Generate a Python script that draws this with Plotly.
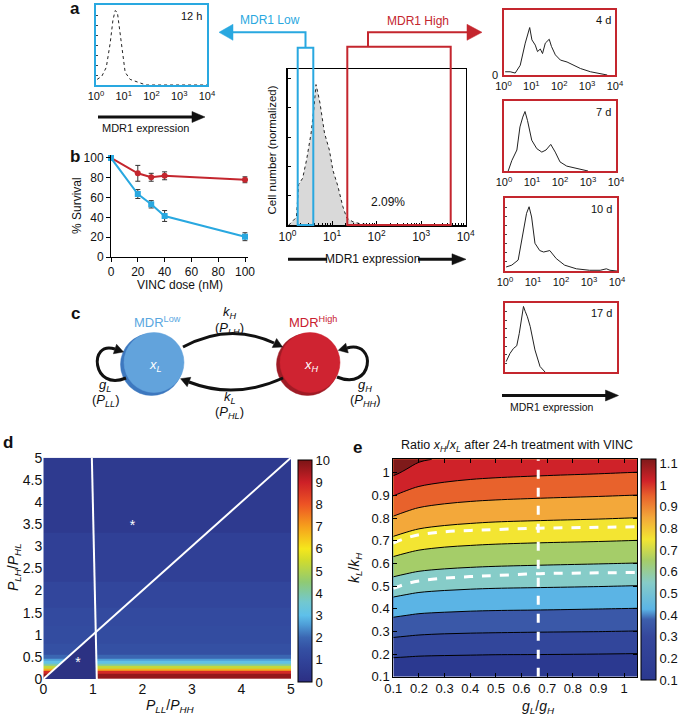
import numpy as np
import plotly.graph_objects as go

W, H = 685, 718
FONT = "Liberation Sans, Arial, Helvetica, sans-serif"
CYAN = "#29a8e0"
RED = "#c4262e"
INK = "#111111"

# ---------------- data ----------------
HIST_TICK_VALS = [1, 10, 100, 1000, 10000]
HIST_TICK_TEXT = ["10<sup>0</sup>", "10<sup>1</sup>", "10<sup>2</sup>", "10<sup>3</sup>", "10<sup>4</sup>"]

# panel a: log10(MDR1 expression) vs normalized cell number
H12_LOG = [0.04, 0.21, 0.37, 0.51, 0.61, 0.69, 0.77, 0.87, 0.97, 1.05, 1.23, 1.47, 1.65, 1.80, 4.0]
H12_CELLS = [0.07, 0.11, 0.22, 0.52, 0.81, 0.93, 0.91, 0.64, 0.31, 0.16, 0.07, 0.04, 0.01, 0.0, 0.0]

MAIN_LOG = [0.03, 0.20, 0.25, 0.34, 0.43, 0.53, 0.59, 0.64, 0.68, 0.73, 0.83, 0.94, 1.02, 1.13,
            1.24, 1.33, 1.47, 1.66, 2.0]
MAIN_CELLS = [0.0, 0.05, 0.26, 0.30, 0.42, 0.59, 0.74, 0.90, 0.85, 0.78, 0.59, 0.48, 0.35, 0.25,
              0.12, 0.045, 0.02, 0.006, 0.0]
HIGH_GATE_PERCENT = "2.09%"

D4_LOG = [0.06, 0.24, 0.42, 0.60, 0.78, 0.94, 1.02, 1.14, 1.22, 1.32, 1.40, 1.50, 1.64, 1.72,
          1.86, 2.04, 2.28, 2.52, 2.76, 3.12, 3.48, 3.72]
D4_CELLS = [0.05, 0.05, 0.03, 0.15, 0.49, 0.73, 0.54, 0.46, 0.36, 0.40, 0.33, 0.49, 0.55, 0.44,
            0.31, 0.23, 0.20, 0.15, 0.10, 0.05, 0.015, 0.0]
D7_LOG = [0.15, 0.28, 0.46, 0.57, 0.67, 0.75, 0.84, 0.99, 1.17, 1.35, 1.50, 1.67, 1.83, 2.0,
          2.24, 2.6, 2.96, 3.0]
D7_CELLS = [0.0, 0.15, 0.30, 0.63, 0.77, 0.85, 0.72, 0.44, 0.32, 0.27, 0.30, 0.38, 0.27, 0.13,
            0.07, 0.035, 0.01, 0.0]
D10_LOG = [0.04, 0.24, 0.47, 0.65, 0.77, 0.86, 0.95, 1.07, 1.24, 1.38, 1.6, 1.83, 2.13, 2.55,
           3.02, 3.4, 3.62, 3.75, 4.0]
D10_CELLS = [0.055, 0.08, 0.15, 0.51, 0.79, 0.88, 0.74, 0.38, 0.28, 0.26, 0.28, 0.17, 0.08, 0.03,
             0.01, 0.01, 0.03, 0.01, 0.0]
D17_LOG = [0.04, 0.18, 0.30, 0.42, 0.51, 0.60, 0.66, 0.72, 0.80, 0.90, 1.07, 1.25, 1.43]
D17_CELLS = [0.15, 0.27, 0.34, 0.38, 0.56, 0.76, 0.95, 0.88, 0.80, 0.66, 0.32, 0.08, 0.0]

# panel b
DOSE = [0, 20, 30, 40, 100]
SURV_HIGH = [100, 84.5, 80.5, 82, 78]
SURV_HIGH_ERR = [2, 8, 4, 4, 3]
SURV_LOW = [100, 63.6, 53.2, 41.4, 20.5]
SURV_LOW_ERR = [1.5, 4.5, 3.7, 5.5, 4]
DOSE_TICKS = [0, 20, 40, 60, 80, 100]
SURV_TICKS = [0, 20, 40, 60, 80, 100]

# panel d
D_X_EDGES = [0, 5]
D_Y_EDGES = [0, 0.12, 0.18, 0.24, 0.29, 0.35, 0.41, 0.47, 0.55, 0.8, 1.2, 1.6, 2.2, 3.3, 5]
D_RATIO = [9.7, 8.8, 6.8, 5.3, 4.0, 3.1, 2.6, 2.0, 1.5, 1.35, 1.25, 1.1, 0.8, 0.5]
D_LOWER_TRI_X = [0, 1.08, 1.059, 0]
D_LOWER_TRI_Y = [0, 0, 1.059, 0]
D_VLINE_X = [0.98, 1.08]
D_VLINE_Y = [5, 0]
D_DIAG_X = [0, 5]
D_DIAG_Y = [0, 5]
D_STAR_X = [0.7, 1.8]
D_STAR_Y = [0.35, 3.45]
D_TICKS = [0, 0.5, 1, 1.5, 2, 2.5, 3, 3.5, 4, 4.5, 5]
D_TICK_TEXT = ["0", "0.5", "1", "1.5", "2", "2.5", "3", "3.5", "4", "4.5", "5"]
D_CB_TICKS = [0, 1, 2, 3, 4, 5, 6, 7, 8, 9, 10]

# panel e
E_G = [0.1, 0.15, 0.2, 0.3, 0.4, 0.5, 0.7, 0.9, 1.05]
E_K = [0.1, 0.2, 0.3, 0.4, 0.5, 0.6, 0.7, 0.8, 0.9, 1.0, 1.06]
E_RATIO = [
    [0.106, 0.105, 0.103, 0.102, 0.102, 0.101, 0.101, 0.100, 0.099],
    [0.218, 0.214, 0.210, 0.207, 0.205, 0.203, 0.202, 0.200, 0.198],
    [0.330, 0.323, 0.317, 0.311, 0.308, 0.306, 0.303, 0.301, 0.298],
    [0.442, 0.432, 0.423, 0.416, 0.411, 0.408, 0.405, 0.401, 0.398],
    [0.554, 0.541, 0.530, 0.520, 0.514, 0.510, 0.506, 0.502, 0.498],
    [0.666, 0.650, 0.637, 0.625, 0.618, 0.613, 0.607, 0.602, 0.598],
    [0.778, 0.759, 0.744, 0.729, 0.721, 0.715, 0.708, 0.703, 0.698],
    [0.890, 0.868, 0.850, 0.834, 0.824, 0.817, 0.810, 0.804, 0.798],
    [1.002, 0.977, 0.957, 0.938, 0.927, 0.920, 0.911, 0.904, 0.898],
    [1.114, 1.086, 1.064, 1.043, 1.030, 1.022, 1.012, 1.004, 0.997],
    [1.170, 1.140, 1.110, 1.090, 1.080, 1.075, 1.070, 1.065, 1.058],
]
E_DASH_G = [0.1, 0.15, 0.2, 0.3, 0.4, 0.5, 0.67, 0.85, 1.05]
E_DASH_UPPER_K = [0.69, 0.712, 0.727, 0.740, 0.746, 0.750, 0.756, 0.759, 0.762]
E_DASH_LOWER_K = [0.49, 0.51, 0.523, 0.535, 0.542, 0.547, 0.555, 0.558, 0.56]
E_VLINE_G = [0.665, 0.665]
E_VLINE_K = [0.1, 1.06]
E_TICKS = [0.1, 0.2, 0.3, 0.4, 0.5, 0.6, 0.7, 0.8, 0.9, 1.0]
E_TICK_TEXT = ["0.1", "0.2", "0.3", "0.4", "0.5", "0.6", "0.7", "0.8", "0.9", "1"]
E_CB_TICKS = [0.1, 0.2, 0.3, 0.4, 0.5, 0.6, 0.7, 0.8, 0.9, 1.0, 1.1]
E_CB_TEXT = ["0.1", "0.2", "0.3", "0.4", "0.5", "0.6", "0.7", "0.8", "0.9", "1", "1.1"]

# ---------------- helpers ----------------
def X(p):
    return p / W


def Y(p):
    return 1 - p / H


def xd(a, b):
    return [a / W, b / W]


def yd(top, bottom):
    return [1 - bottom / H, 1 - top / H]


def txt(s, x, y, size=12, color=INK, xanchor="center", yanchor="middle", angle=0):
    return dict(text=s, x=X(x), y=Y(y), xref="paper", yref="paper", showarrow=False,
                font=dict(family=FONT, size=size, color=color), xanchor=xanchor,
                yanchor=yanchor, textangle=angle)


def rect(x0, y0, x1, y1, color, width=2):
    return dict(type="rect", xref="paper", yref="paper", x0=X(x0), x1=X(x1), y0=Y(y1), y1=Y(y0),
                line=dict(color=color, width=width), fillcolor="rgba(0,0,0,0)", layer="above")


def poly(points, color, width=2):
    d = "M " + " L ".join(f"{X(a):.5f},{Y(b):.5f}" for a, b in points)
    return dict(type="path", xref="paper", yref="paper", path=d,
                line=dict(color=color, width=width), layer="above")


def curve(start, cmd, pts, color=INK, width=3):
    d = f"M {X(start[0]):.5f},{Y(start[1]):.5f} {cmd} " + " ".join(
        f"{X(a):.5f},{Y(b):.5f}" for a, b in pts)
    return dict(type="path", xref="paper", yref="paper", path=d,
                line=dict(color=color, width=width), layer="above")


def tri(tip, direction, length, half, color):
    dx, dy = direction
    n = (dx * dx + dy * dy) ** 0.5
    dx, dy = dx / n, dy / n
    bx, by = tip[0] - length * dx, tip[1] - length * dy
    px_, py_ = -dy, dx
    pts = [tip, (bx + half * px_, by + half * py_), (bx - half * px_, by - half * py_)]
    d = "M " + " L ".join(f"{X(a):.5f},{Y(b):.5f}" for a, b in pts) + " Z"
    return dict(type="path", xref="paper", yref="paper", path=d, fillcolor=color,
                line=dict(color=color, width=0.5), layer="above")


def circle(cx, cy, r, fill, line=None):
    return dict(type="circle", xref="paper", yref="paper", x0=X(cx - r), x1=X(cx + r),
                y0=Y(cy + r), y1=Y(cy - r), fillcolor=fill,
                line=dict(color=line or fill, width=0.5), layer="above")


def ax_name(kind, n):
    return kind + ("axis" if n == 1 else f"axis{n}")


def ref(kind, n):
    return kind if n == 1 else f"{kind}{n}"


fig = go.Figure()
layout = {}

# ---------------- panel a histograms ----------------
def hist_axes(n, x0, x1, top, bottom, color, labels=True, lw=2, yticks=False):
    layout[ax_name("x", n)] = dict(
        domain=xd(x0, x1), type="log", range=[0, 4], showline=True, mirror=True,
        linecolor=color, linewidth=lw, tickmode="array",
        tickvals=HIST_TICK_VALS if labels else [], ticktext=HIST_TICK_TEXT if labels else [],
        ticks="", tickfont=dict(family=FONT, size=11, color=INK), showgrid=False,
        zeroline=False, anchor=ref("y", n), fixedrange=True, automargin=False)
    layout[ax_name("y", n)] = dict(
        domain=yd(top, bottom), range=[0, 1], showline=True, mirror=True, linecolor=color,
        linewidth=lw, showticklabels=False, ticks="inside" if yticks else "", ticklen=2,
        tickcolor="#444", tick0=0, dtick=0.125, showgrid=False, zeroline=False,
        anchor=ref("x", n), fixedrange=True, automargin=False)


def hist_trace(n, logs, cells, dash="solid"):
    fig.add_trace(go.Scatter(
        x=np.power(10.0, logs), y=cells, mode="lines",
        line=dict(color="#222", width=1, dash=dash), xaxis=ref("x", n), yaxis=ref("y", n),
        hoverinfo="skip"))


hist_axes(1, 96, 207, 5, 85, CYAN, yticks=True)
hist_trace(1, H12_LOG, H12_CELLS, dash="dot")

# main histogram
fig.add_trace(go.Scatter(
    x=np.power(10.0, MAIN_LOG), y=MAIN_CELLS, mode="lines", fill="tozeroy",
    fillcolor="#d9d9d9", line=dict(color="#222", width=1, dash="dot"),
    xaxis="x2", yaxis="y2", hoverinfo="skip"))
layout["xaxis2"] = dict(
    domain=xd(287.5, 465.7), type="log", range=[0, 4], showline=True, mirror=True,
    linecolor="black", linewidth=1.5, tickmode="array", tickvals=HIST_TICK_VALS,
    ticktext=HIST_TICK_TEXT, ticks="inside", ticklen=4, tickcolor="black",
    minor=dict(ticks="inside", ticklen=2, tickcolor="black",
               tickvals=[m * 10 ** e for e in range(4) for m in range(2, 10)]),
    tickfont=dict(family=FONT, size=12, color=INK), showgrid=False, zeroline=False,
    anchor="y2", fixedrange=True, automargin=False)
layout["yaxis2"] = dict(
    domain=yd(69, 225), range=[0, 1], showline=True, mirror=True, linecolor="black",
    linewidth=1.5, showticklabels=False, ticks="inside", ticklen=3, tickcolor="black",
    tick0=0, dtick=0.188, showgrid=False, zeroline=False, anchor="x2", fixedrange=True,
    automargin=False)

hist_axes(3, 503.5, 615, 10, 75, RED)
hist_trace(3, D4_LOG, D4_CELLS)
hist_axes(4, 504, 616, 101, 171, RED)
hist_trace(4, D7_LOG, D7_CELLS)
hist_axes(5, 505, 617, 198, 271, RED, yticks=True)
hist_trace(5, D10_LOG, D10_CELLS)
hist_axes(6, 505, 617, 303, 372, RED, labels=False, yticks=True)
hist_trace(6, D17_LOG, D17_CELLS)

# ---------------- panel b ----------------
fig.add_trace(go.Scatter(
    x=DOSE, y=SURV_HIGH, mode="lines+markers", line=dict(color=RED, width=2),
    marker=dict(symbol="circle", size=6, color=RED),
    error_y=dict(type="data", array=SURV_HIGH_ERR, color="#333", thickness=1, width=2.5),
    xaxis="x7", yaxis="y7", cliponaxis=False, hoverinfo="skip"))
fig.add_trace(go.Scatter(
    x=DOSE, y=SURV_LOW, mode="lines+markers", line=dict(color=CYAN, width=2),
    marker=dict(symbol="square", size=6, color=CYAN),
    error_y=dict(type="data", array=SURV_LOW_ERR, color="#333", thickness=1, width=2.5),
    xaxis="x7", yaxis="y7", cliponaxis=False, hoverinfo="skip"))
layout["xaxis7"] = dict(
    domain=xd(111, 247.7), range=[0, 102], showline=True, linecolor="black", linewidth=1,
    ticks="outside", ticklen=4, tickcolor="black", tickvals=DOSE_TICKS,
    tickfont=dict(family=FONT, size=12, color=INK), showgrid=False, zeroline=False,
    anchor="y7", fixedrange=True, automargin=False)
layout["yaxis7"] = dict(
    domain=yd(155, 257), range=[0, 103], showline=True, linecolor="black", linewidth=1,
    ticks="outside", ticklen=4, tickcolor="black", tickvals=SURV_TICKS,
    tickfont=dict(family=FONT, size=12, color=INK), showgrid=False, zeroline=False,
    anchor="x7", fixedrange=True, automargin=False)

# ---------------- panel d ----------------
D_SCALE = [
    [0.00, "#2c2e83"], [0.05, "#2e3a8f"], [0.10, "#31449a"], [0.15, "#3450a3"],
    [0.20, "#3b66b2"], [0.26, "#4f9fd8"], [0.30, "#5ec0ea"], [0.36, "#72c8d0"],
    [0.45, "#8fca74"], [0.55, "#d2dc2c"], [0.60, "#f5e71c"], [0.70, "#f6a01c"],
    [0.80, "#ed5424"], [0.90, "#cd2027"], [1.00, "#7b1416"]]
fig.add_trace(go.Heatmap(
    x=D_X_EDGES, y=D_Y_EDGES, z=[[v] for v in D_RATIO], colorscale=D_SCALE, zmin=0, zmax=10,
    xaxis="x8", yaxis="y8", hoverinfo="skip",
    colorbar=dict(x=X(298), xanchor="left", y=Y(682), yanchor="bottom", len=222 / H,
                  lenmode="fraction", thickness=14, xpad=0, ypad=0, outlinewidth=1,
                  outlinecolor="black", tickvals=D_CB_TICKS, ticks="",
                  tickfont=dict(family=FONT, size=13, color=INK))))
fig.add_trace(go.Scatter(
    x=D_LOWER_TRI_X, y=D_LOWER_TRI_Y, mode="lines", fill="toself", fillcolor="#2c3283",
    line=dict(width=0, color="#2c3283"), xaxis="x8", yaxis="y8", hoverinfo="skip"))
for lx, ly in ((D_VLINE_X, D_VLINE_Y), (D_DIAG_X, D_DIAG_Y)):
    fig.add_trace(go.Scatter(x=lx, y=ly, mode="lines", line=dict(color="white", width=2),
                             xaxis="x8", yaxis="y8", hoverinfo="skip"))
fig.add_trace(go.Scatter(
    x=D_STAR_X, y=D_STAR_Y, mode="text", text=["*", "*"],
    textfont=dict(family=FONT, size=14, color="white"), xaxis="x8", yaxis="y8",
    hoverinfo="skip"))
layout["xaxis8"] = dict(
    domain=xd(43.3, 291), range=[0, 5], tickvals=D_TICKS[::2], ticktext=D_TICK_TEXT[::2],
    ticks="", tickfont=dict(family=FONT, size=14, color=INK), showgrid=False,
    zeroline=False, showline=False, anchor="y8", fixedrange=True, automargin=False)
layout["yaxis8"] = dict(
    domain=yd(457.7, 679), range=[0, 5], tickvals=D_TICKS, ticktext=D_TICK_TEXT,
    ticks="", tickfont=dict(family=FONT, size=14, color=INK), showgrid=False,
    zeroline=False, showline=False, anchor="x8", fixedrange=True, automargin=False)

# ---------------- panel e ----------------
E_FILL = [
    [0.0, "#2b3990"], [0.1, "#32469b"], [0.2, "#3a58a8"], [0.3, "#5bb4e5"],
    [0.4, "#86ccc8"], [0.5, "#a5cd69"], [0.6, "#f3e532"], [0.7, "#f3a83a"],
    [0.8, "#e8622c"], [0.9, "#cf2229"], [1.0, "#7f1a1a"]]
fig.add_trace(go.Contour(
    x=E_G, y=E_K, z=E_RATIO, colorscale=E_FILL, showscale=False,
    contours=dict(start=0.2, end=1.1, size=0.1, coloring="fill"),
    line=dict(color="black", width=1, smoothing=1), xaxis="x9", yaxis="y9",
    hoverinfo="skip"))
for kk in (E_DASH_UPPER_K, E_DASH_LOWER_K):
    fig.add_trace(go.Scatter(x=E_DASH_G, y=kk, mode="lines",
                             line=dict(color="white", width=3, dash="dash", shape="spline"),
                             xaxis="x9", yaxis="y9", hoverinfo="skip"))
fig.add_trace(go.Scatter(x=E_VLINE_G, y=E_VLINE_K, mode="lines",
                         line=dict(color="white", width=3, dash="dash"),
                         xaxis="x9", yaxis="y9", hoverinfo="skip"))
E_BAR = [
    [0.0, "#2b3990"], [0.196, "#35479c"], [0.275, "#3d5fac"], [0.32, "#5bb4e5"],
    [0.44, "#86ccc8"], [0.54, "#a5cd69"], [0.637, "#f3e532"], [0.735, "#f3a83a"],
    [0.833, "#e8622c"], [0.902, "#cf2229"], [1.0, "#7f1a1a"]]
fig.add_trace(go.Heatmap(
    x=[5, 6], y=[5, 6], z=[[0.5]], colorscale=E_BAR, zmin=0.1, zmax=1.12,
    xaxis="x9", yaxis="y9", hoverinfo="skip",
    colorbar=dict(x=X(641), xanchor="left", y=Y(680), yanchor="bottom", len=221 / H,
                  lenmode="fraction", thickness=15, xpad=0, ypad=0, outlinewidth=1,
                  outlinecolor="black", tickvals=E_CB_TICKS, ticktext=E_CB_TEXT, ticks="",
                  tickfont=dict(family=FONT, size=13, color=INK))))
layout["xaxis9"] = dict(
    domain=xd(393.3, 637), range=[0.1, 1.05], tickvals=E_TICKS, ticktext=E_TICK_TEXT,
    ticks="inside", ticklen=4, tickcolor="black", showline=True, mirror="ticks",
    linecolor="black", linewidth=1, tickfont=dict(family=FONT, size=13, color=INK),
    showgrid=False, zeroline=False, anchor="y9", fixedrange=True, automargin=False)
layout["yaxis9"] = dict(
    domain=yd(459.3, 676.7), range=[0.1, 1.06], tickvals=E_TICKS, ticktext=E_TICK_TEXT,
    ticks="inside", ticklen=4, tickcolor="black", showline=True, mirror="ticks",
    linecolor="black", linewidth=1, tickfont=dict(family=FONT, size=13, color=INK),
    showgrid=False, zeroline=False, anchor="x9", fixedrange=True, automargin=False)

# ---------------- shapes ----------------
shapes = [
    # gates
    rect(297.7, 47.7, 313.3, 225, CYAN, 2),
    rect(347.3, 46.7, 450.7, 225, RED, 2),
    poly([(305.5, 47.7), (305.5, 32.3), (232, 32.3)], CYAN, 2),
    tri((219, 32.3), (-1, 0), 14, 8, CYAN),
    poly([(368, 46.7), (368, 32.3), (468, 32.3)], RED, 2),
    tri((482, 32.3), (1, 0), 15, 8, RED),
    # expression arrows
    poly([(98, 117), (194, 117)], INK, 3),
    tri((205, 117), (1, 0), 13, 5.5, INK),
    poly([(288, 259.3), (327, 259.3)], INK, 3),
    poly([(418, 259.3), (454, 259.3)], INK, 3),
    tri((466, 259.3), (1, 0), 14, 5.5, INK),
    poly([(502, 395.5), (607, 395.5)], INK, 3),
    tri((618.5, 395.5), (1, 0), 13, 5.5, INK),
    # panel c
    circle(151.5, 364.5, 31, "#3d78bf"),
    circle(154, 362.5, 30, "#62a3dc"),
    circle(307.5, 364.5, 31, "#9f1b25"),
    circle(310, 362.5, 30, "#cf2331"),
    curve((183, 347), "Q", [(229, 322), (274, 343)]),
    tri((282.5, 347), (0.898, 0.44), 9, 5, INK),
    curve((283, 378), "Q", [(235, 400), (189, 382)]),
    tri((180.6, 378.7), (-0.931, -0.364), 9, 5, INK),
    curve((126, 378), "C", [(92, 392), (88, 340), (115, 349)]),
    tri((123.5, 351.9), (0.95, 0.32), 9, 5, INK),
    curve((337, 377), "C", [(373, 392), (378, 340), (347, 348)]),
    tri((338.3, 350.3), (-0.968, 0.25), 9, 5, INK),
]

ann = [
    txt("<b>a</b>", 75, 8, 17),
    txt("<b>b</b>", 75, 156, 17),
    txt("<b>c</b>", 75, 313, 17),
    txt("<b>d</b>", 8, 442, 17),
    txt("<b>e</b>", 357, 447, 17),
    txt("12 h", 191, 16, 11),
    txt("4 d", 603, 20, 11),
    txt("7 d", 603, 112, 11),
    txt("10 d", 601, 209, 11),
    txt("17 d", 601, 313, 11),
    txt("0", 495, 75, 11),
    txt("MDR1 Low", 270, 20, 12, CYAN),
    txt("MDR1 High", 418, 20.5, 12, RED),
    txt("MDR1 expression", 145, 128, 11),
    txt("MDR1 expression", 372.5, 259.3, 12),
    txt("MDR1 expression", 552, 407, 10.5),
    txt("Cell number (normalized)", 271.5, 150, 11.5, angle=-90),
    txt(HIGH_GATE_PERCENT, 388, 202, 12),
    txt("% Survival", 77, 206, 12, angle=-90),
    txt("VINC dose (nM)", 180, 285, 12),
    txt("MDR<sup>Low</sup>", 157, 322, 13, "#5aa7df"),
    txt("MDR<sup>High</sup>", 313, 322, 13, "#c8202f"),
    txt("<i>k</i><sub><i>H</i></sub>", 230, 312, 13),
    txt("(<i>P</i><sub><i>LH</i></sub>)", 230, 328, 13),
    txt("<i>k</i><sub><i>L</i></sub>", 230, 397, 13),
    txt("(<i>P</i><sub><i>HL</i></sub>)", 230, 412, 13),
    txt("<i>g</i><sub><i>L</i></sub>", 105, 385, 13),
    txt("(<i>P</i><sub><i>LL</i></sub>)", 105, 400, 13),
    txt("<i>g</i><sub><i>H</i></sub>", 365, 385, 13),
    txt("(<i>P</i><sub><i>HH</i></sub>)", 365, 400, 13),
    txt("<i>x</i><sub><i>L</i></sub>", 155, 365, 13, "white"),
    txt("<i>x</i><sub><i>H</i></sub>", 311, 365, 13, "white"),
    txt("<i>P</i><sub><i>LH</i></sub>/<i>P</i><sub><i>HL</i></sub>", 14, 567, 14, angle=-90),
    txt("<i>P</i><sub><i>LL</i></sub>/<i>P</i><sub><i>HH</i></sub>", 170, 706, 14),
    txt("Ratio <i>x</i><sub><i>H</i></sub>/<i>x</i><sub><i>L</i></sub> after 24-h treatment with VINC",
        517, 446, 12.5),
    txt("<i>g</i><sub><i>L</i></sub>/<i>g</i><sub><i>H</i></sub>", 538, 707, 14),
    txt("<i>k</i><sub><i>L</i></sub>/<i>k</i><sub><i>H</i></sub>", 355, 568, 14, angle=-90),
]

fig.update_layout(
    width=W, height=H, margin=dict(l=0, r=0, t=0, b=0, pad=0, autoexpand=False),
    autosize=False, template="none",
    paper_bgcolor="white", plot_bgcolor="rgba(0,0,0,0)", showlegend=False,
    font=dict(family=FONT, color=INK), shapes=shapes, annotations=ann, **layout)

fig.write_html(
    "out.html",
    config={"displayModeBar": False, "staticPlot": True},
    post_script="document.body.style.margin='0px';document.body.style.padding='0px';"
                "document.body.style.overflow='hidden';")
